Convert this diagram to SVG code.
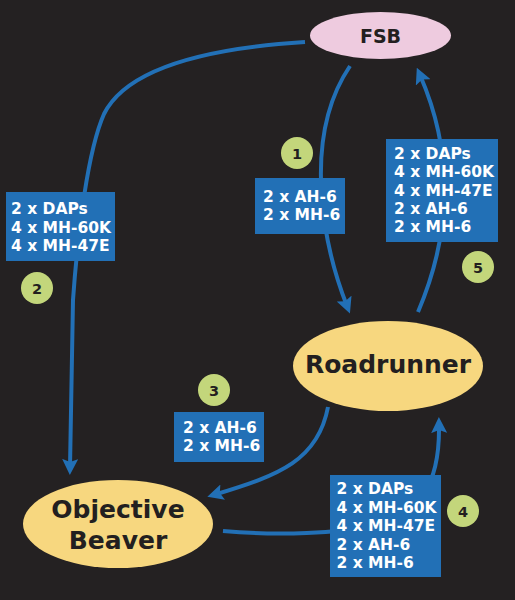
<svg xmlns="http://www.w3.org/2000/svg" width="515" height="600" viewBox="0 0 515 600">
<style>
.bg{fill:#242122}
.edge{fill:none;stroke:#2270b6;stroke-width:4;marker-end:url(#arr)}
.box{fill:#2270b6}
.lbl{fill:#ffffff;font-family:"DejaVu Sans",Verdana,sans-serif;font-weight:bold;font-size:15.5px}
.num{fill:#c3d67b}
.numt{fill:#231f20;font-family:"DejaVu Sans",Verdana,sans-serif;font-weight:bold;font-size:14.5px;text-anchor:middle}
.node{fill:#231f20;font-family:"DejaVu Sans",Verdana,sans-serif;font-weight:bold;text-anchor:middle}
</style>
<defs>
<marker id="arr" viewBox="0 0 16 16" refX="8" refY="8" markerWidth="16" markerHeight="16" markerUnits="userSpaceOnUse" orient="auto">
<path d="M0,0 L16,8 L0,16 L3,8 z" fill="#2270b6"/>
</marker>
</defs>
<rect class="bg" x="0" y="0" width="515" height="600"/>
<g id="connectors">
<path class="edge" d="M350,66 C300,140 325,250 347,306"/>
<path class="edge" d="M305,42 C180,50 122,78 104,114 C88,150 78,230 73,300 L70,467"/>
<path class="edge" d="M328,407 C318,460 280,475 215,494.5"/>
<path class="edge" d="M223,531 C280,536 340,533 370,526 C420,515 440,485 439,425"/>
<path class="edge" d="M418,312 Q470,190 420,75"/>
</g>
<g id="labels">
<g id="label1">
<rect class="box" x="255" y="178" width="90" height="56"/>
<text class="lbl" x="263" y="202">2 x AH-6</text>
<text class="lbl" x="263" y="220">2 x MH-6</text>
<circle class="num" cx="297" cy="153" r="16"/>
<text class="numt" x="297" y="158.5">1</text>
</g>
<g id="label2">
<rect class="box" x="6" y="192" width="109" height="69"/>
<text class="lbl" x="11" y="214">2 x DAPs</text>
<text class="lbl" x="11" y="232.5">4 x MH-60K</text>
<text class="lbl" x="11" y="251">4 x MH-47E</text>
<circle class="num" cx="37" cy="288" r="16"/>
<text class="numt" x="37" y="293.5">2</text>
</g>
<g id="label3">
<rect class="box" x="174" y="412" width="90" height="50"/>
<text class="lbl" x="183" y="432.5">2 x AH-6</text>
<text class="lbl" x="183" y="451">2 x MH-6</text>
<circle class="num" cx="214" cy="390" r="16"/>
<text class="numt" x="214" y="395.5">3</text>
</g>
<g id="label4">
<rect class="box" x="330" y="475" width="111" height="102"/>
<text class="lbl" x="336.5" y="494">2 x DAPs</text>
<text class="lbl" x="336.5" y="512.5">4 x MH-60K</text>
<text class="lbl" x="336.5" y="531">4 x MH-47E</text>
<text class="lbl" x="336.5" y="549.5">2 x AH-6</text>
<text class="lbl" x="336.5" y="568">2 x MH-6</text>
<circle class="num" cx="463" cy="511" r="16"/>
<text class="numt" x="463" y="516.5">4</text>
</g>
<g id="label5">
<rect class="box" x="386" y="139" width="112" height="103"/>
<text class="lbl" x="394" y="158.5">2 x DAPs</text>
<text class="lbl" x="394" y="177">4 x MH-60K</text>
<text class="lbl" x="394" y="195.5">4 x MH-47E</text>
<text class="lbl" x="394" y="214">2 x AH-6</text>
<text class="lbl" x="394" y="232">2 x MH-6</text>
<circle class="num" cx="478" cy="267" r="16"/>
<text class="numt" x="478" y="272.5">5</text>
</g>
</g>
<g id="fsb">
<ellipse cx="380.5" cy="35.5" rx="70.5" ry="23.5" fill="#eecbdf"/>
<text class="node" x="380.5" y="42.5" font-size="19">FSB</text>
</g>
<g id="roadrunner">
<ellipse cx="388" cy="366" rx="95" ry="45" fill="#f7d77f"/>
<text class="node" x="388" y="373" font-size="25">Roadrunner</text>
</g>
<g id="objective-beaver">
<ellipse cx="118" cy="524" rx="95" ry="44" fill="#f7d77f"/>
<text class="node" x="118" y="518" font-size="25">Objective</text>
<text class="node" x="118" y="549" font-size="25">Beaver</text>
</g>
</svg>
